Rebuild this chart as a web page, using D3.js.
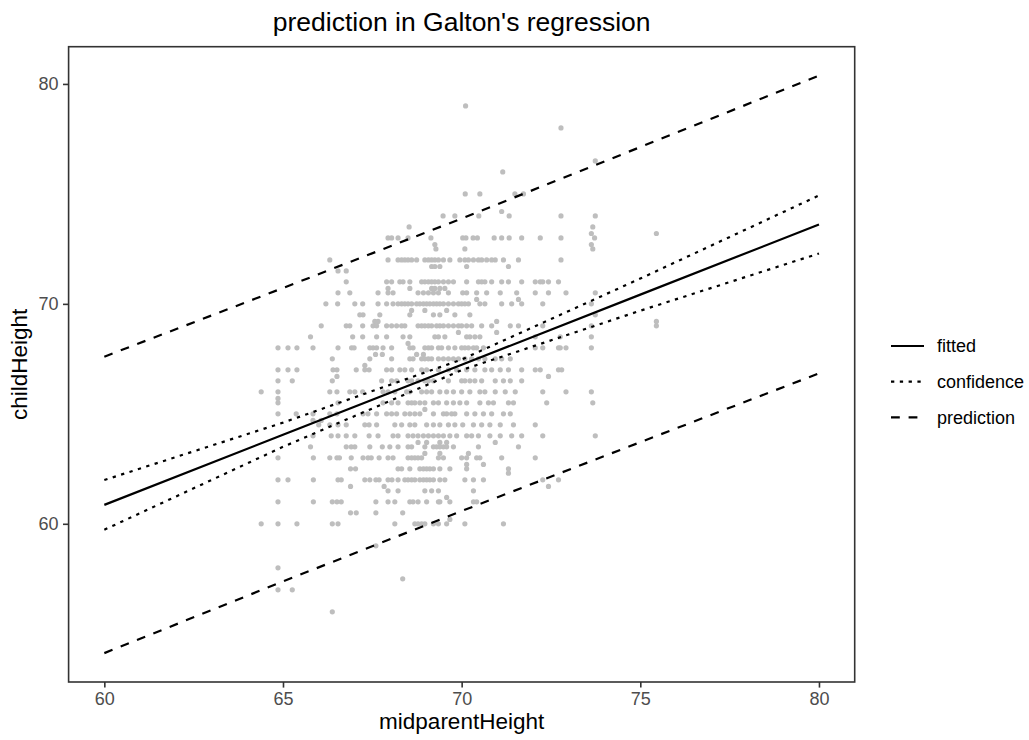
<!DOCTYPE html>
<html><head><meta charset="utf-8">
<script src="https://cdn.jsdelivr.net/npm/d3@7"></script>
<style>body{margin:0;background:#fff}svg{display:block}</style>
</head><body><svg id="c" width="1029" height="740"></svg>
<script>
// ---- data ----
const childHeights = [79.0,78.0,76.5,76.0,75.0,74.2,74.0,73.5,73.2,73.0,72.7,72.5,72.0,71.7,71.5,71.0,70.7,70.5,70.2,70.0,69.7,69.5,69.2,69.0,68.7,68.5,68.2,68.0,67.7,67.5,67.2,67.0,66.7,66.5,66.0,65.7,65.5,65.2,65.0,64.7,64.5,64.0,63.7,63.5,63.2,63.0,62.7,62.5,62.3,62.0,61.7,61.5,61.2,61.0,60.5,60.2,60.0,59.0,58.0,57.5,57.0,56.0];
const midparentByRow = [
 [70.11],
 [72.78],
 [73.74],
 [71.15],
 [70.10,70.51,71.49,71.73],
 [71.12],
 [69.48,69.81,70.48,71.33,72.78,73.74],
 [68.53,73.67],
 [73.63,75.45],
 [67.94,68.04,68.22,68.50,69.14,70.03,70.12,70.32,70.44,70.91,71.12,71.33,71.68,72.20,72.78,73.72],
 [69.25,73.63],
 [69.28,70.09,73.67],
 [66.31,67.94,68.22,68.32,68.41,68.50,68.60,68.74,68.97,69.07,69.16,69.25,69.35,69.49,69.67,69.95,70.09,70.19,70.33,70.47,70.56,70.70,70.84,70.94,71.17,71.59,72.78],
 [69.16,69.25,69.39,70.14,71.31],
 [66.54,66.77],
 [66.77,67.90,68.04,68.27,68.36,68.55,68.88,68.97,69.07,69.16,69.25,69.35,69.49,69.63,69.77,70.14,70.47,70.56,70.65,70.84,71.12,71.31,71.68,72.06,72.20,72.27,72.43,72.71],
 [67.94,68.55,69.16,69.25,69.39,69.53],
 [66.54,66.87,67.66,67.94,68.08,68.78,68.93,69.07,69.21,69.35,69.63,70.03,70.14,70.42,70.70,71.08,71.54,72.06,72.43,72.92,73.74],
 [70.42,71.59],
 [66.20,66.53,67.01,67.23,67.66,67.90,68.08,68.22,68.32,68.41,68.50,68.60,68.74,68.83,68.93,69.02,69.11,69.21,69.30,69.39,69.49,69.63,69.77,69.91,70.00,70.09,70.19,70.51,70.65,71.12,71.40,71.68,72.27,73.63],
 [68.60,68.97,69.58],
 [67.15,67.24,67.71,68.55,69.21,69.39,69.81,70.23,73.74],
 [67.57,67.66,70.98,75.45],
 [66.07,66.77,66.87,67.23,67.52,67.62,67.90,68.04,68.18,68.32,68.41,68.78,68.88,68.97,69.07,69.16,69.30,69.39,69.49,69.63,69.77,69.91,70.00,70.14,70.28,70.56,70.84,71.36,71.59,72.27,73.63,75.45],
 [69.91,70.98],
 [65.77,66.95,67.23,67.62,67.90,68.36,68.55,69.25,69.35,69.53,70.14,70.23,70.37,70.51,72.06,72.76,73.63],
 [68.50],
 [64.86,65.14,65.39,65.84,66.54,66.92,66.99,67.43,67.52,67.62,67.80,68.04,68.55,68.64,68.97,69.07,69.16,69.35,69.44,69.63,69.81,70.00,70.09,70.19,70.33,70.42,70.61,72.06,72.27,72.71,72.76,72.92,73.63],
 [67.59,67.78,68.74,68.93],
 [66.38,67.43,68.04,68.55,68.64,68.88,68.97,69.07,69.16,69.35,69.49,69.63,69.77,69.91,70.09,70.28,70.47,70.65,70.94,71.12,71.36],
 [67.29],
 [64.86,65.14,65.39,66.40,66.51,67.05,67.29,67.41,67.90,68.04,68.27,68.41,68.60,68.88,69.02,69.35,69.63,69.86,70.14,70.37,70.65,70.84,71.08,71.31,71.68,72.06,72.20,72.71,72.80],
 [66.51,72.43],
 [64.86,65.26,66.38,67.76,68.04,68.18,68.50,68.60,68.78,68.97,69.07,69.21,69.63,70.00,70.09,70.23,70.37,70.56,70.94,71.17,71.36,71.68],
 [64.39,64.86,66.31,66.51,66.87,67.01,67.23,67.80,67.94,68.13,68.46,68.55,68.88,69.02,69.16,69.39,69.58,69.77,70.00,70.23,70.51,70.65,70.94,71.22,71.50,72.27,72.92,73.63],
 [64.86],
 [64.86,66.54,67.80,68.04,68.22,68.50,68.60,68.69,68.83,68.97,69.21,69.35,69.58,69.77,69.95,70.14,70.51,70.75,70.89,71.31,71.45,72.38,73.67],
 [68.97],
 [64.86,65.37,65.84,66.31,66.51,67.24,67.38,67.62,67.90,68.04,68.18,68.41,68.55,68.69,68.83,69.21,69.49,69.58,69.72,69.81,70.14,70.37,70.61,70.84,71.17,71.36],
 [65.84,66.07],
 [66.00,66.31,66.54,66.77,67.29,67.41,67.62,68.13,68.32,68.55,68.69,69.02,69.21,69.39,69.63,69.81,70.03,70.33,70.56,70.79,71.08,71.45,72.06],
 [65.84,66.35,66.54,66.77,67.01,67.41,67.66,68.08,68.22,68.50,68.64,68.78,68.93,69.07,69.21,69.35,69.49,69.67,69.86,70.14,70.28,70.47,70.79,71.08,71.40,71.68,72.27,73.74],
 [68.78,69.02,69.39,69.58,70.94],
 [65.77,66.77,66.91,67.01,67.43,67.78,67.99,68.22,68.50,68.60,68.97,69.21,69.30,69.39,69.49,69.58,69.77,70.47,71.59],
 [68.97,69.39,70.19],
 [64.86,65.85,66.31,66.51,66.58,66.91,67.24,67.38,67.47,67.69,67.94,68.08,68.50,68.60,68.69,68.78,68.88,69.35,69.49,70.00,70.14,70.42,70.51,71.12,72.06],
 [70.14,70.61],
 [66.89,67.03,68.22,68.32,68.55,68.83,68.93,69.02,69.11,69.21,69.39,69.67,70.14,71.31],
 [71.31],
 [64.86,65.14,65.85,66.54,66.63,67.29,67.43,67.60,67.69,67.94,68.05,68.22,68.41,68.50,68.60,68.69,68.83,68.93,69.02,69.11,69.21,69.39,69.53,70.09,70.33,70.61,72.27,72.71],
 [66.89,67.83,72.43],
 [67.94,68.22,68.97,69.16,69.35,70.33],
 [69.58],
 [64.86,65.85,66.38,66.51,66.63,67.60,67.94,68.13,68.55,68.64,68.78,69.02,69.35,69.39,69.67,70.33,70.42],
 [66.89,67.05,67.60,68.35],
 [69.67],
 [64.39,64.86,65.39,66.38,66.54,68.13,68.69,68.78,68.88,68.97,69.21,69.35,69.58,70.09,71.17],
 [67.60],
 [64.86],
 [68.35],
 [64.86,65.26],
 [66.38]
];
const lineX          = [60, 65, 70, 75, 80];
const fittedY        = [60.86, 64.05, 67.23, 70.42, 73.61];
const confLowerY     = [59.73, 63.50, 66.99, 69.69, 72.29];
const confUpperY     = [61.99, 64.60, 67.47, 71.15, 74.93];
const predLowerY     = [54.12, 57.38, 60.58, 63.71, 66.84];
const predUpperY     = [67.60, 70.72, 73.88, 77.13, 80.38];
const xTicks = [60, 65, 70, 75, 80];
const yTicks = [60, 70, 80];
const legendLabels = ["fitted", "confidence", "prediction"];
const titleText = "prediction in Galton's regression";
const xTitle = "midparentHeight";
const yTitle = "childHeight";

// ---- drawing ----
const svg = d3.select("#c");
const font = "'Liberation Sans', Arial, Helvetica, sans-serif";
const panel = {left: 68.6, right: 854.7, top: 46.7, bottom: 682};

function expand(ext){ const d=(ext[1]-ext[0])*0.05; return [ext[0]-d, ext[1]+d]; }
const allY = childHeights.concat(fittedY, confLowerY, confUpperY, predLowerY, predUpperY);
const x = d3.scaleLinear().domain(expand(d3.extent(lineX))).range([panel.left, panel.right]);
const y = d3.scaleLinear().domain(expand(d3.extent(allY))).range([panel.bottom, panel.top]);

const points = childHeights.flatMap((c, i) => midparentByRow[i].map(m => ({m, c})));

svg.append("g").selectAll("circle").data(points).join("circle")
  .attr("cx", d => x(d.m)).attr("cy", d => y(d.c)).attr("r", 2.6)
  .attr("fill", "#BEBEBE");

const lw = 2.2;
const styles = {
  fitted: null,
  confidence: "3.3 5.5",
  prediction: `${lw*4} ${lw*4}`
};
const series = [
  {key: "fitted", vals: fittedY},
  {key: "confidence", vals: confLowerY},
  {key: "confidence", vals: confUpperY},
  {key: "prediction", vals: predLowerY},
  {key: "prediction", vals: predUpperY}
];
const line = d3.line().x((d,i) => x(lineX[i])).y(d => y(d));
svg.append("g").selectAll("path").data(series).join("path")
  .attr("d", d => line(d.vals)).attr("fill", "none").attr("stroke", "#000")
  .attr("stroke-width", lw).attr("stroke-dasharray", d => styles[d.key])
  .attr("stroke-linecap", "butt");

// panel border
svg.append("rect").attr("x", panel.left).attr("y", panel.top)
  .attr("width", panel.right - panel.left).attr("height", panel.bottom - panel.top)
  .attr("fill", "none").attr("stroke", "#333333").attr("stroke-width", 1.6);

// axes
const gx = svg.append("g").attr("transform", `translate(0,${panel.bottom})`)
  .call(d3.axisBottom(x).tickValues(xTicks).tickSize(5.6).tickPadding(4.5).tickFormat(d3.format("d")));
const gy = svg.append("g").attr("transform", `translate(${panel.left},0)`)
  .call(d3.axisLeft(y).tickValues(yTicks).tickSize(5.6).tickPadding(4.5).tickFormat(d3.format("d")));
[gx, gy].forEach(g => {
  g.select(".domain").remove();
  g.selectAll(".tick line").attr("stroke", "#333333").attr("stroke-width", 1.6);
  g.selectAll(".tick text").attr("fill", "#4D4D4D").style("font-family", font).style("font-size", "18px");
});
gx.selectAll(".tick text").attr("dy", "0.72em");

// titles
svg.append("text").attr("x", (panel.left + panel.right)/2).attr("y", 31)
  .attr("text-anchor", "middle").style("font-family", font).style("font-size", "26.5px")
  .text(titleText);
svg.append("text").attr("x", (panel.left + panel.right)/2).attr("y", 729)
  .attr("text-anchor", "middle").style("font-family", font).style("font-size", "22.5px")
  .text(xTitle);
svg.append("text").attr("transform", `translate(27,${(panel.top + panel.bottom)/2}) rotate(-90)`)
  .attr("text-anchor", "middle").style("font-family", font).style("font-size", "22.5px")
  .text(yTitle);

// legend
const legY = d3.scalePoint().domain(legendLabels).range([346, 417.4]);
const leg = svg.append("g").selectAll("g").data(legendLabels).join("g")
  .attr("transform", d => `translate(0,${legY(d)})`);
leg.append("line").attr("x1", 891).attr("x2", 924).attr("y1", 0).attr("y2", 0)
  .attr("stroke", "#000").attr("stroke-width", lw).attr("stroke-dasharray", d => styles[d])
  .attr("stroke-linecap", "butt");
leg.append("text").attr("x", 937).attr("y", 0).attr("dy", "0.35em")
  .style("font-family", font).style("font-size", "18px").text(d => d);
</script>
</body></html>
